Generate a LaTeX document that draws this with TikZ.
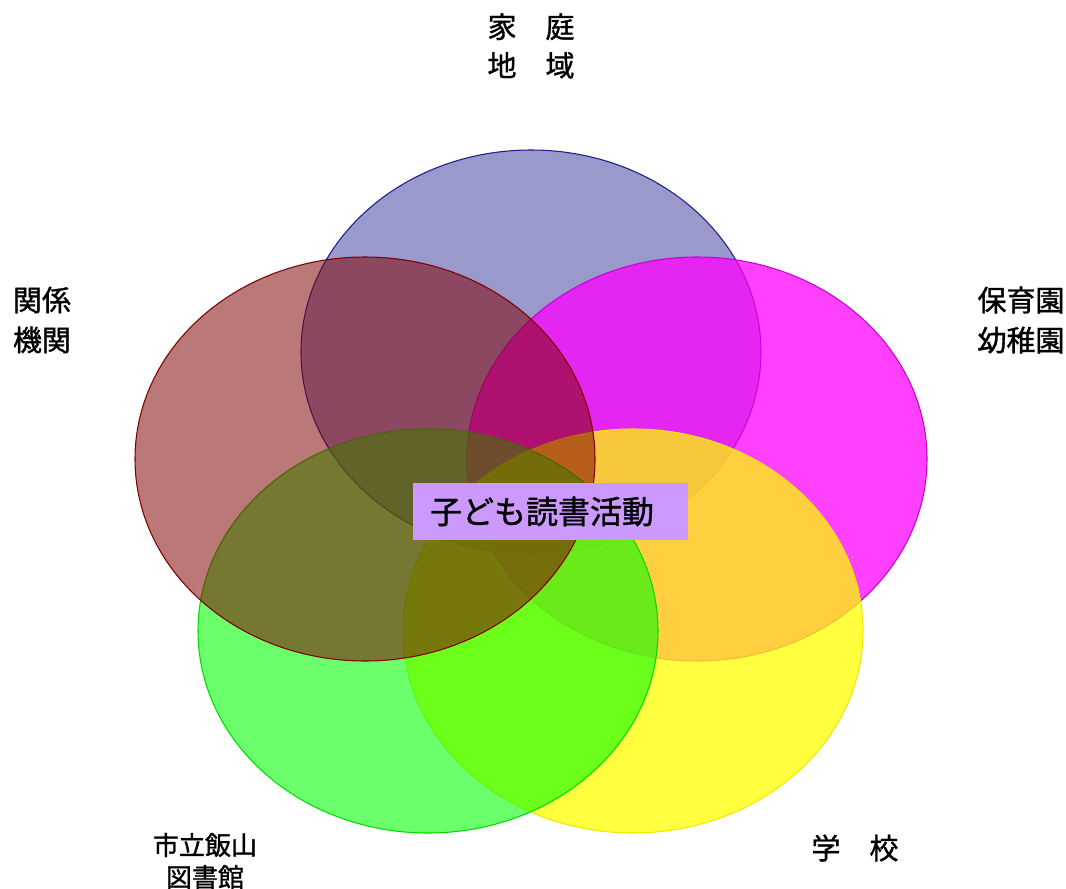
\documentclass[tikz,border=0pt]{standalone}
\usepackage{fontspec}
\setmainfont{Noto Sans CJK JP}[FakeBold=1.2, AutoFakeBold=1.2]
\definecolor{cblue}{RGB}{0,0,128}
\definecolor{cblueb}{RGB}{30,30,140}
\definecolor{cmag}{RGB}{255,0,255}
\definecolor{cmagb}{RGB}{200,0,210}
\definecolor{cyel}{RGB}{255,255,0}
\definecolor{cyelb}{RGB}{235,235,0}
\definecolor{cgrn}{RGB}{0,255,0}
\definecolor{cgrnb}{RGB}{0,220,0}
\definecolor{cbrn}{RGB}{128,0,0}
\definecolor{cbrnb}{RGB}{128,0,0}
\definecolor{cbox}{RGB}{204,153,255}
\begin{document}
\begin{tikzpicture}[x=0.75pt,y=-0.75pt,
  petal/.style={line width=0.8pt},
  lbl/.style={font=\fontsize{21.75}{29}\selectfont\bfseries, align=center, inner sep=0pt}]
\useasboundingbox (0,0) rectangle (1066,888);
\fill[white] (0,0) rectangle (1066,888);
\coordinate (pb) at (531,352);
\coordinate (pm) at (697,459);
\coordinate (py) at (633,631);
\coordinate (pg) at (428,631);
\coordinate (pr) at (365,459);
\draw[petal, draw=cblueb, fill=cblue, fill opacity=0.4] (pb) ellipse [x radius=172.5pt, y radius=151.5pt];
\draw[petal, draw=cmagb, fill=cmag, fill opacity=0.75] (pm) ellipse [x radius=172.5pt, y radius=151.5pt];
\draw[petal, draw=cyelb, fill=cyel, fill opacity=0.75] (py) ellipse [x radius=172.5pt, y radius=151.5pt];
\draw[petal, draw=cgrnb, fill=cgrn, fill opacity=0.58] (pg) ellipse [x radius=172.5pt, y radius=151.5pt];
\draw[petal, draw=cbrnb, fill=cbrn, fill opacity=0.53] (pr) ellipse [x radius=172.5pt, y radius=151.5pt];
\node[fill=cbox, minimum width=206.25pt, minimum height=42.75pt, text width=180.75pt, inner xsep=12.75pt, inner ysep=0pt, align=left, font=\fontsize{24}{28}\selectfont\bfseries] (center) at (550.5,511.5) {子ども読書活動};
\node[lbl] (home) at (531,46) {家　庭\\地　域};
\node[lbl, font=\fontsize{21.75}{30}\selectfont\bfseries] (rel) at (42,320) {関係\\機関};
\node[lbl, font=\fontsize{21.75}{30}\selectfont\bfseries] (nurs) at (1021,320) {保育園\\幼稚園};
\node[lbl, font=\fontsize{19.5}{24}\selectfont\bfseries] (lib) at (205,861) {市立飯山\\図書館};
\node[lbl] (school) at (855,848) {学　校};
\end{tikzpicture}
\end{document}
